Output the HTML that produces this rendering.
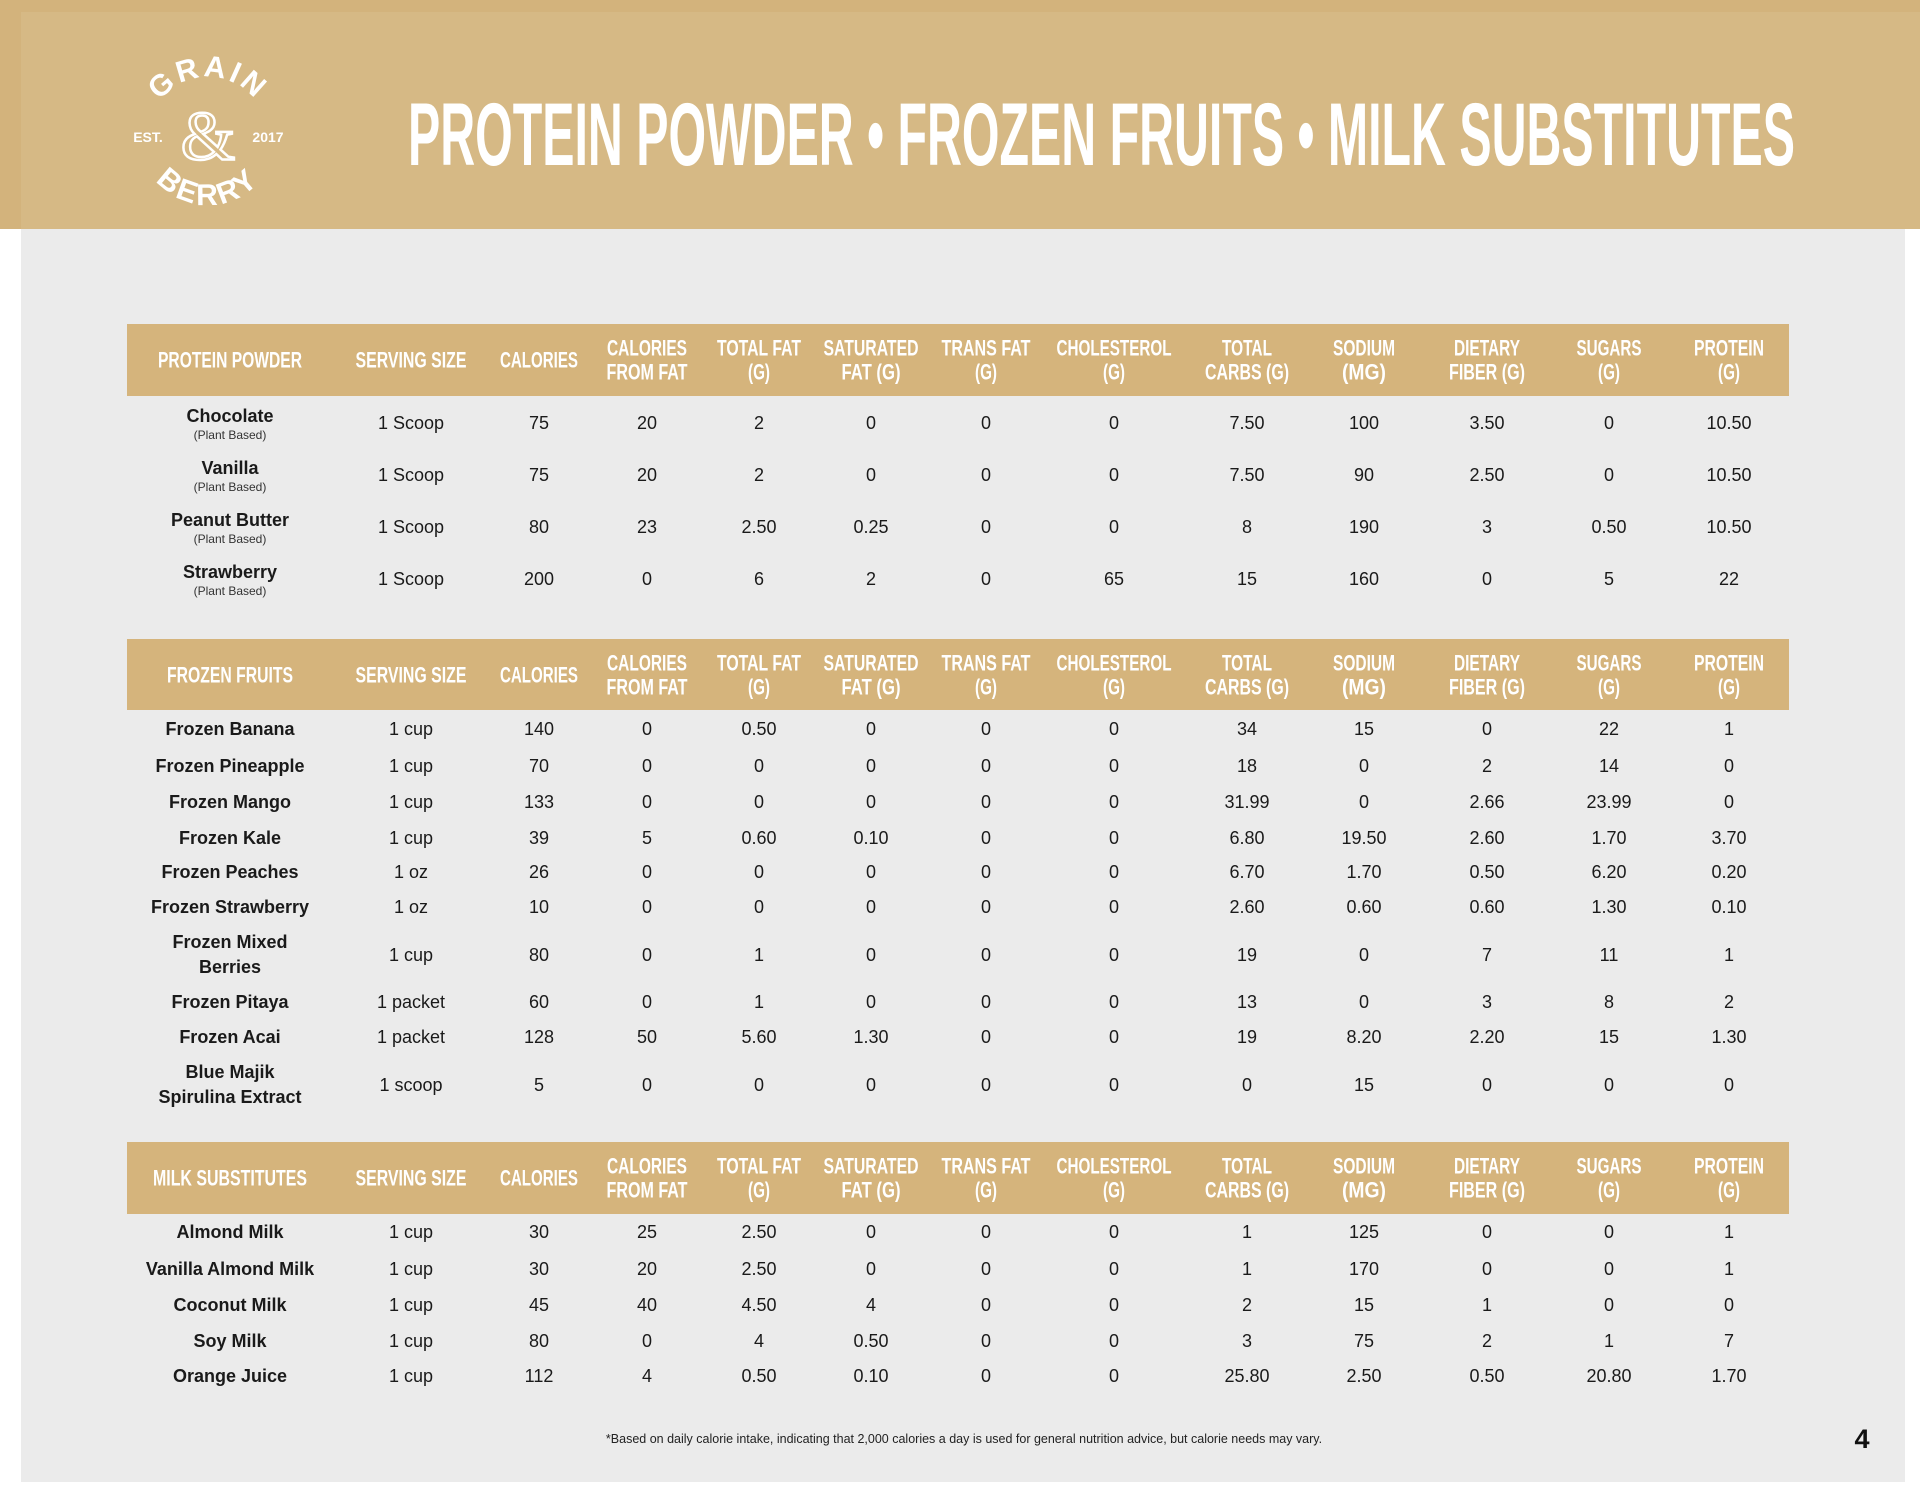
<!DOCTYPE html>
<html><head><meta charset="utf-8"><style>
html,body{margin:0;padding:0;background:#fff}
svg{display:block}
.h{font-family:"Liberation Sans Narrow","Liberation Sans",sans-serif;font-weight:bold;font-size:22px;fill:#fff;text-anchor:middle}
.b{font-family:"Liberation Sans",sans-serif;font-size:18px;fill:#1a1a1a;text-anchor:middle}
.n{font-family:"Liberation Sans",sans-serif;font-size:18px;font-weight:bold;fill:#1a1a1a;text-anchor:middle}
.s{font-family:"Liberation Sans",sans-serif;font-size:12px;fill:#333;text-anchor:middle}
</style></head><body>
<svg width="1920" height="1494" viewBox="0 0 1920 1494" xmlns="http://www.w3.org/2000/svg">
<defs>
<path id="arcT" d="M148,137 A60,60 0 0 1 268,137"/>
<path id="arcB" d="M140,137 A68,68 0 0 0 276,137"/>
<g id="hdr">
<text class="h" x="411" y="0" textLength="111" lengthAdjust="spacingAndGlyphs">SERVING SIZE</text>
<text class="h" x="539" y="0" textLength="78" lengthAdjust="spacingAndGlyphs">CALORIES</text>
<text class="h" x="647" y="-12" textLength="80" lengthAdjust="spacingAndGlyphs">CALORIES</text><text class="h" x="647" y="12" textLength="81" lengthAdjust="spacingAndGlyphs">FROM FAT</text>
<text class="h" x="759" y="-12" textLength="84" lengthAdjust="spacingAndGlyphs">TOTAL FAT</text><text class="h" x="759" y="12" textLength="22" lengthAdjust="spacingAndGlyphs">(G)</text>
<text class="h" x="871" y="-12" textLength="95" lengthAdjust="spacingAndGlyphs">SATURATED</text><text class="h" x="871" y="12" textLength="59" lengthAdjust="spacingAndGlyphs">FAT (G)</text>
<text class="h" x="986" y="-12" textLength="89" lengthAdjust="spacingAndGlyphs">TRANS FAT</text><text class="h" x="986" y="12" textLength="22" lengthAdjust="spacingAndGlyphs">(G)</text>
<text class="h" x="1114" y="-12" textLength="115" lengthAdjust="spacingAndGlyphs">CHOLESTEROL</text><text class="h" x="1114" y="12" textLength="22" lengthAdjust="spacingAndGlyphs">(G)</text>
<text class="h" x="1247" y="-12" textLength="50" lengthAdjust="spacingAndGlyphs">TOTAL</text><text class="h" x="1247" y="12" textLength="84" lengthAdjust="spacingAndGlyphs">CARBS (G)</text>
<text class="h" x="1364" y="-12" textLength="62" lengthAdjust="spacingAndGlyphs">SODIUM</text><text class="h" x="1364" y="12" textLength="44" lengthAdjust="spacingAndGlyphs">(MG)</text>
<text class="h" x="1487" y="-12" textLength="66" lengthAdjust="spacingAndGlyphs">DIETARY</text><text class="h" x="1487" y="12" textLength="76" lengthAdjust="spacingAndGlyphs">FIBER (G)</text>
<text class="h" x="1609" y="-12" textLength="65" lengthAdjust="spacingAndGlyphs">SUGARS</text><text class="h" x="1609" y="12" textLength="22" lengthAdjust="spacingAndGlyphs">(G)</text>
<text class="h" x="1729" y="-12" textLength="70" lengthAdjust="spacingAndGlyphs">PROTEIN</text><text class="h" x="1729" y="12" textLength="22" lengthAdjust="spacingAndGlyphs">(G)</text>
</g>
</defs>
<rect x="0" y="0" width="1920" height="229" fill="#d3b37c"/>
<rect x="21" y="12" width="1899" height="217" fill="#d6b985"/>
<rect x="21" y="229" width="1884" height="1253" fill="#ebebeb"/>
<!-- logo -->
<g fill="#fff" font-family="Liberation Sans Narrow,Liberation Sans,sans-serif" font-weight="bold">
<text font-size="30" letter-spacing="3"><textPath href="#arcT" startOffset="50%" text-anchor="middle">GRAIN</textPath></text>
<text font-size="30" letter-spacing="3"><textPath href="#arcB" startOffset="50%" text-anchor="middle">BERRY</textPath></text>
<text x="148" y="137" font-size="14" text-anchor="middle" dominant-baseline="central">EST.</text>
<text x="268" y="137" font-size="14" text-anchor="middle" dominant-baseline="central">2017</text>
<text x="208" y="137" font-size="70" font-family="Liberation Serif,serif" font-weight="normal" text-anchor="middle" dominant-baseline="central" fill="none" stroke="#fff" stroke-width="2.5">&amp;</text>
</g>
<text x="408" y="165" textLength="1387" lengthAdjust="spacingAndGlyphs" font-family="Liberation Sans Narrow,Liberation Sans,sans-serif" font-weight="bold" font-size="89" fill="#fff">PROTEIN POWDER • FROZEN FRUITS • MILK SUBSTITUTES</text>

<rect x="127" y="324" width="1662" height="72" fill="#d5b47c"/>
<rect x="127" y="639" width="1662" height="71" fill="#d5b47c"/>
<rect x="127" y="1142" width="1662" height="72" fill="#d5b47c"/>

<g dominant-baseline="central">
<g transform="translate(0,360)">
<text class="h" x="230" y="0" textLength="144" lengthAdjust="spacingAndGlyphs">PROTEIN POWDER</text>
<use href="#hdr"/>
</g>
<g transform="translate(0,675)">
<text class="h" x="230" y="0" textLength="126" lengthAdjust="spacingAndGlyphs">FROZEN FRUITS</text>
<use href="#hdr"/>
</g>
<g transform="translate(0,1178)">
<text class="h" x="230" y="0" textLength="154" lengthAdjust="spacingAndGlyphs">MILK SUBSTITUTES</text>
<use href="#hdr"/>
</g>

<g transform="translate(0,423)"><text class="n" x="230" y="-7">Chocolate</text><text class="s" x="230" y="12">(Plant Based)</text>
<text class="b" x="411" y="0">1 Scoop</text><text class="b" x="539" y="0">75</text><text class="b" x="647" y="0">20</text><text class="b" x="759" y="0">2</text><text class="b" x="871" y="0">0</text><text class="b" x="986" y="0">0</text><text class="b" x="1114" y="0">0</text><text class="b" x="1247" y="0">7.50</text><text class="b" x="1364" y="0">100</text><text class="b" x="1487" y="0">3.50</text><text class="b" x="1609" y="0">0</text><text class="b" x="1729" y="0">10.50</text></g>
<g transform="translate(0,475)"><text class="n" x="230" y="-7">Vanilla</text><text class="s" x="230" y="12">(Plant Based)</text>
<text class="b" x="411" y="0">1 Scoop</text><text class="b" x="539" y="0">75</text><text class="b" x="647" y="0">20</text><text class="b" x="759" y="0">2</text><text class="b" x="871" y="0">0</text><text class="b" x="986" y="0">0</text><text class="b" x="1114" y="0">0</text><text class="b" x="1247" y="0">7.50</text><text class="b" x="1364" y="0">90</text><text class="b" x="1487" y="0">2.50</text><text class="b" x="1609" y="0">0</text><text class="b" x="1729" y="0">10.50</text></g>
<g transform="translate(0,527)"><text class="n" x="230" y="-7">Peanut Butter</text><text class="s" x="230" y="12">(Plant Based)</text>
<text class="b" x="411" y="0">1 Scoop</text><text class="b" x="539" y="0">80</text><text class="b" x="647" y="0">23</text><text class="b" x="759" y="0">2.50</text><text class="b" x="871" y="0">0.25</text><text class="b" x="986" y="0">0</text><text class="b" x="1114" y="0">0</text><text class="b" x="1247" y="0">8</text><text class="b" x="1364" y="0">190</text><text class="b" x="1487" y="0">3</text><text class="b" x="1609" y="0">0.50</text><text class="b" x="1729" y="0">10.50</text></g>
<g transform="translate(0,579)"><text class="n" x="230" y="-7">Strawberry</text><text class="s" x="230" y="12">(Plant Based)</text>
<text class="b" x="411" y="0">1 Scoop</text><text class="b" x="539" y="0">200</text><text class="b" x="647" y="0">0</text><text class="b" x="759" y="0">6</text><text class="b" x="871" y="0">2</text><text class="b" x="986" y="0">0</text><text class="b" x="1114" y="0">65</text><text class="b" x="1247" y="0">15</text><text class="b" x="1364" y="0">160</text><text class="b" x="1487" y="0">0</text><text class="b" x="1609" y="0">5</text><text class="b" x="1729" y="0">22</text></g>

<g transform="translate(0,729)"><text class="n" x="230" y="0">Frozen Banana</text>
<text class="b" x="411" y="0">1 cup</text><text class="b" x="539" y="0">140</text><text class="b" x="647" y="0">0</text><text class="b" x="759" y="0">0.50</text><text class="b" x="871" y="0">0</text><text class="b" x="986" y="0">0</text><text class="b" x="1114" y="0">0</text><text class="b" x="1247" y="0">34</text><text class="b" x="1364" y="0">15</text><text class="b" x="1487" y="0">0</text><text class="b" x="1609" y="0">22</text><text class="b" x="1729" y="0">1</text></g>
<g transform="translate(0,766)"><text class="n" x="230" y="0">Frozen Pineapple</text>
<text class="b" x="411" y="0">1 cup</text><text class="b" x="539" y="0">70</text><text class="b" x="647" y="0">0</text><text class="b" x="759" y="0">0</text><text class="b" x="871" y="0">0</text><text class="b" x="986" y="0">0</text><text class="b" x="1114" y="0">0</text><text class="b" x="1247" y="0">18</text><text class="b" x="1364" y="0">0</text><text class="b" x="1487" y="0">2</text><text class="b" x="1609" y="0">14</text><text class="b" x="1729" y="0">0</text></g>
<g transform="translate(0,802)"><text class="n" x="230" y="0">Frozen Mango</text>
<text class="b" x="411" y="0">1 cup</text><text class="b" x="539" y="0">133</text><text class="b" x="647" y="0">0</text><text class="b" x="759" y="0">0</text><text class="b" x="871" y="0">0</text><text class="b" x="986" y="0">0</text><text class="b" x="1114" y="0">0</text><text class="b" x="1247" y="0">31.99</text><text class="b" x="1364" y="0">0</text><text class="b" x="1487" y="0">2.66</text><text class="b" x="1609" y="0">23.99</text><text class="b" x="1729" y="0">0</text></g>
<g transform="translate(0,838)"><text class="n" x="230" y="0">Frozen Kale</text>
<text class="b" x="411" y="0">1 cup</text><text class="b" x="539" y="0">39</text><text class="b" x="647" y="0">5</text><text class="b" x="759" y="0">0.60</text><text class="b" x="871" y="0">0.10</text><text class="b" x="986" y="0">0</text><text class="b" x="1114" y="0">0</text><text class="b" x="1247" y="0">6.80</text><text class="b" x="1364" y="0">19.50</text><text class="b" x="1487" y="0">2.60</text><text class="b" x="1609" y="0">1.70</text><text class="b" x="1729" y="0">3.70</text></g>
<g transform="translate(0,872)"><text class="n" x="230" y="0">Frozen Peaches</text>
<text class="b" x="411" y="0">1 oz</text><text class="b" x="539" y="0">26</text><text class="b" x="647" y="0">0</text><text class="b" x="759" y="0">0</text><text class="b" x="871" y="0">0</text><text class="b" x="986" y="0">0</text><text class="b" x="1114" y="0">0</text><text class="b" x="1247" y="0">6.70</text><text class="b" x="1364" y="0">1.70</text><text class="b" x="1487" y="0">0.50</text><text class="b" x="1609" y="0">6.20</text><text class="b" x="1729" y="0">0.20</text></g>
<g transform="translate(0,907)"><text class="n" x="230" y="0">Frozen Strawberry</text>
<text class="b" x="411" y="0">1 oz</text><text class="b" x="539" y="0">10</text><text class="b" x="647" y="0">0</text><text class="b" x="759" y="0">0</text><text class="b" x="871" y="0">0</text><text class="b" x="986" y="0">0</text><text class="b" x="1114" y="0">0</text><text class="b" x="1247" y="0">2.60</text><text class="b" x="1364" y="0">0.60</text><text class="b" x="1487" y="0">0.60</text><text class="b" x="1609" y="0">1.30</text><text class="b" x="1729" y="0">0.10</text></g>
<g transform="translate(0,955)"><text class="n" x="230" y="-13">Frozen Mixed</text><text class="n" x="230" y="12">Berries</text>
<text class="b" x="411" y="0">1 cup</text><text class="b" x="539" y="0">80</text><text class="b" x="647" y="0">0</text><text class="b" x="759" y="0">1</text><text class="b" x="871" y="0">0</text><text class="b" x="986" y="0">0</text><text class="b" x="1114" y="0">0</text><text class="b" x="1247" y="0">19</text><text class="b" x="1364" y="0">0</text><text class="b" x="1487" y="0">7</text><text class="b" x="1609" y="0">11</text><text class="b" x="1729" y="0">1</text></g>
<g transform="translate(0,1002)"><text class="n" x="230" y="0">Frozen Pitaya</text>
<text class="b" x="411" y="0">1 packet</text><text class="b" x="539" y="0">60</text><text class="b" x="647" y="0">0</text><text class="b" x="759" y="0">1</text><text class="b" x="871" y="0">0</text><text class="b" x="986" y="0">0</text><text class="b" x="1114" y="0">0</text><text class="b" x="1247" y="0">13</text><text class="b" x="1364" y="0">0</text><text class="b" x="1487" y="0">3</text><text class="b" x="1609" y="0">8</text><text class="b" x="1729" y="0">2</text></g>
<g transform="translate(0,1037)"><text class="n" x="230" y="0">Frozen Acai</text>
<text class="b" x="411" y="0">1 packet</text><text class="b" x="539" y="0">128</text><text class="b" x="647" y="0">50</text><text class="b" x="759" y="0">5.60</text><text class="b" x="871" y="0">1.30</text><text class="b" x="986" y="0">0</text><text class="b" x="1114" y="0">0</text><text class="b" x="1247" y="0">19</text><text class="b" x="1364" y="0">8.20</text><text class="b" x="1487" y="0">2.20</text><text class="b" x="1609" y="0">15</text><text class="b" x="1729" y="0">1.30</text></g>
<g transform="translate(0,1085)"><text class="n" x="230" y="-13">Blue Majik</text><text class="n" x="230" y="12">Spirulina Extract</text>
<text class="b" x="411" y="0">1 scoop</text><text class="b" x="539" y="0">5</text><text class="b" x="647" y="0">0</text><text class="b" x="759" y="0">0</text><text class="b" x="871" y="0">0</text><text class="b" x="986" y="0">0</text><text class="b" x="1114" y="0">0</text><text class="b" x="1247" y="0">0</text><text class="b" x="1364" y="0">15</text><text class="b" x="1487" y="0">0</text><text class="b" x="1609" y="0">0</text><text class="b" x="1729" y="0">0</text></g>

<g transform="translate(0,1232)"><text class="n" x="230" y="0">Almond Milk</text>
<text class="b" x="411" y="0">1 cup</text><text class="b" x="539" y="0">30</text><text class="b" x="647" y="0">25</text><text class="b" x="759" y="0">2.50</text><text class="b" x="871" y="0">0</text><text class="b" x="986" y="0">0</text><text class="b" x="1114" y="0">0</text><text class="b" x="1247" y="0">1</text><text class="b" x="1364" y="0">125</text><text class="b" x="1487" y="0">0</text><text class="b" x="1609" y="0">0</text><text class="b" x="1729" y="0">1</text></g>
<g transform="translate(0,1269)"><text class="n" x="230" y="0">Vanilla Almond Milk</text>
<text class="b" x="411" y="0">1 cup</text><text class="b" x="539" y="0">30</text><text class="b" x="647" y="0">20</text><text class="b" x="759" y="0">2.50</text><text class="b" x="871" y="0">0</text><text class="b" x="986" y="0">0</text><text class="b" x="1114" y="0">0</text><text class="b" x="1247" y="0">1</text><text class="b" x="1364" y="0">170</text><text class="b" x="1487" y="0">0</text><text class="b" x="1609" y="0">0</text><text class="b" x="1729" y="0">1</text></g>
<g transform="translate(0,1305)"><text class="n" x="230" y="0">Coconut Milk</text>
<text class="b" x="411" y="0">1 cup</text><text class="b" x="539" y="0">45</text><text class="b" x="647" y="0">40</text><text class="b" x="759" y="0">4.50</text><text class="b" x="871" y="0">4</text><text class="b" x="986" y="0">0</text><text class="b" x="1114" y="0">0</text><text class="b" x="1247" y="0">2</text><text class="b" x="1364" y="0">15</text><text class="b" x="1487" y="0">1</text><text class="b" x="1609" y="0">0</text><text class="b" x="1729" y="0">0</text></g>
<g transform="translate(0,1341)"><text class="n" x="230" y="0">Soy Milk</text>
<text class="b" x="411" y="0">1 cup</text><text class="b" x="539" y="0">80</text><text class="b" x="647" y="0">0</text><text class="b" x="759" y="0">4</text><text class="b" x="871" y="0">0.50</text><text class="b" x="986" y="0">0</text><text class="b" x="1114" y="0">0</text><text class="b" x="1247" y="0">3</text><text class="b" x="1364" y="0">75</text><text class="b" x="1487" y="0">2</text><text class="b" x="1609" y="0">1</text><text class="b" x="1729" y="0">7</text></g>
<g transform="translate(0,1376)"><text class="n" x="230" y="0">Orange Juice</text>
<text class="b" x="411" y="0">1 cup</text><text class="b" x="539" y="0">112</text><text class="b" x="647" y="0">4</text><text class="b" x="759" y="0">0.50</text><text class="b" x="871" y="0">0.10</text><text class="b" x="986" y="0">0</text><text class="b" x="1114" y="0">0</text><text class="b" x="1247" y="0">25.80</text><text class="b" x="1364" y="0">2.50</text><text class="b" x="1487" y="0">0.50</text><text class="b" x="1609" y="0">20.80</text><text class="b" x="1729" y="0">1.70</text></g>

<text x="964" y="1439" font-family="Liberation Sans,sans-serif" font-size="12.5" fill="#222" text-anchor="middle">*Based on daily calorie intake, indicating that 2,000 calories a day is used for general nutrition advice, but calorie needs may vary.</text>
<text x="1862" y="1439" font-family="Liberation Sans,sans-serif" font-weight="bold" font-size="27" fill="#111" text-anchor="middle">4</text>
</g>
</svg>
</body></html>
